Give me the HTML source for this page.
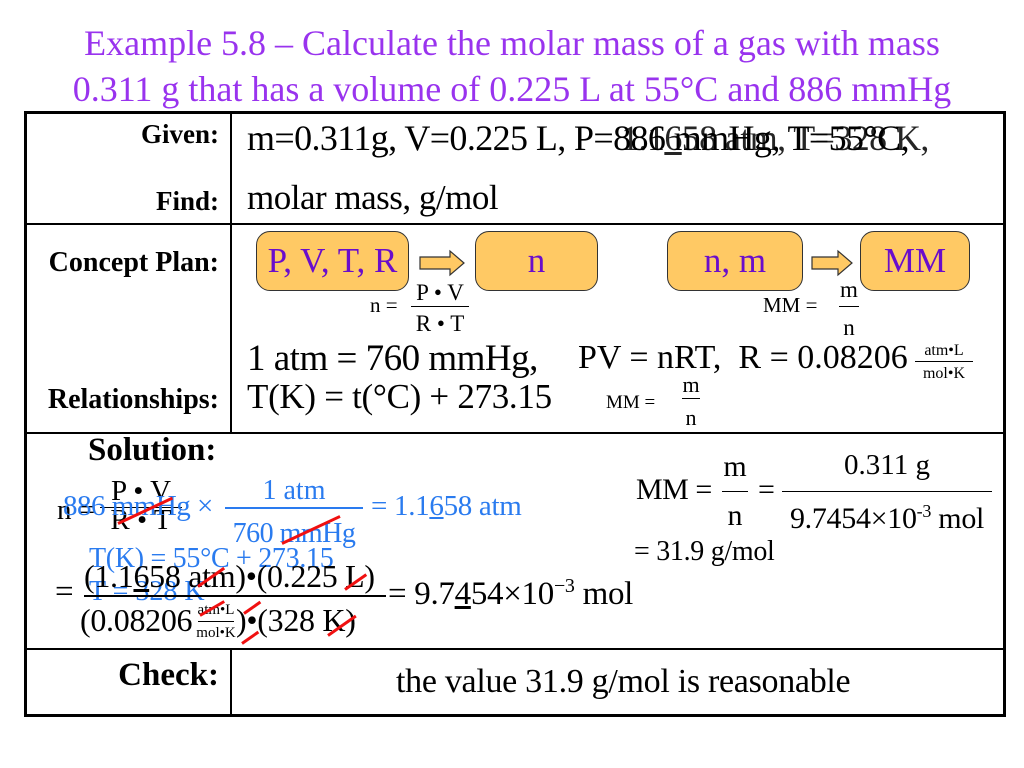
<!DOCTYPE html>
<html><head><meta charset="utf-8"><style>
body{margin:0;width:1024px;height:768px;background:#fff;position:relative;overflow:hidden;font-family:"Liberation Serif",serif;color:#000}
.t{position:absolute;white-space:nowrap;line-height:1}
.b{font-weight:bold}
.l{position:absolute;background:#000}
.blue{color:#2a7bef}
.box{position:absolute;background:#ffc964;border:1.5px solid #333;border-radius:14px;box-sizing:border-box;color:#6a0dcc;font-size:35px;display:flex;align-items:center;justify-content:center}
.fr{position:absolute;text-align:center;line-height:1;white-space:nowrap}
.red{position:absolute;height:3px;background:#f01010;transform-origin:left center}
</style></head><body>
<div class="t" style="left:0;width:1024px;text-align:center;top:25px;font-size:36px;color:#9933ee">Example 5.8 – Calculate the molar mass of a gas with mass</div>
<div class="t" style="left:0;width:1024px;text-align:center;top:71px;font-size:36px;color:#9933ee">0.311 g that has a volume of 0.225 L at 55°C and 886 mmHg</div>

<div class="l" style="left:24px;top:111px;width:982px;height:3px"></div>
<div class="l" style="left:24px;top:111px;width:3px;height:606px"></div>
<div class="l" style="left:1003px;top:111px;width:3px;height:606px"></div>
<div class="l" style="left:24px;top:714px;width:982px;height:3px"></div>
<div class="l" style="left:230px;top:111px;width:1.5px;height:322px"></div>
<div class="l" style="left:230px;top:649px;width:1.5px;height:66px"></div>
<div class="l" style="left:24px;top:223px;width:982px;height:1.5px"></div>
<div class="l" style="left:24px;top:432px;width:982px;height:1.5px"></div>
<div class="l" style="left:24px;top:648px;width:982px;height:1.5px"></div>

<div class="t b" style="right:805px;top:121px;font-size:27px">Given:</div>
<div class="t b" style="right:805px;top:188px;font-size:27px">Find:</div>
<div class="t b" style="right:805px;top:249px;font-size:28px">Concept Plan:</div>
<div class="t b" style="right:805px;top:386px;font-size:28px">Relationships:</div>
<div class="t b" style="left:88px;top:434px;font-size:33px">Solution:</div>
<div class="t b" style="right:805px;top:659px;font-size:33px">Check:</div>

<div class="t" style="left:247px;top:120px;font-size:36px;letter-spacing:-0.6px">m=0.311g, V=0.225 L, P=886 mmHg, T=55°C,</div>
<div class="t" style="left:255px;top:120px;font-size:36px;letter-spacing:-0.6px;opacity:0.85"><span style="visibility:hidden">m=0.311g, V=0.225 L, P=</span>1.1<u>6</u>58 atm, T=328 K,</div>
<div class="t" style="left:247px;top:180px;font-size:35px;letter-spacing:-0.5px">molar mass, g/mol</div>

<div class="box" style="left:256px;top:231px;width:153px;height:60px">P, V, T, R</div>
<div class="box" style="left:475px;top:231px;width:123px;height:60px">n</div>
<div class="box" style="left:667px;top:231px;width:136px;height:60px">n, m</div>
<div class="box" style="left:860px;top:231px;width:110px;height:60px">MM</div>
<svg style="position:absolute;left:0;top:0" width="1024" height="768">
<polygon points="420,257 450,257 450,251 464,263 450,275 450,269 420,269" fill="#ffc964" stroke="#333" stroke-width="1.2"/>
<polygon points="812,257 838,257 838,251 852,263 838,275 838,269 812,269" fill="#ffc964" stroke="#333" stroke-width="1.2"/>
</svg>
<div class="t" style="left:370px;top:295px;font-size:21px">n =</div>
<div class="fr" style="left:409px;top:281px;width:62px;font-size:23px">P • V</div>
<div class="l" style="left:411px;top:306px;width:58px;height:1px"></div>
<div class="fr" style="left:409px;top:312px;width:62px;font-size:23px">R • T</div>
<div class="t" style="left:763px;top:295px;font-size:21px">MM =</div>
<div class="fr" style="left:836px;top:278px;width:26px;font-size:23px">m</div>
<div class="l" style="left:839px;top:306px;width:20px;height:1px"></div>
<div class="fr" style="left:836px;top:316px;width:26px;font-size:23px">n</div>

<div class="t" style="left:247px;top:340px;font-size:37px;letter-spacing:-0.5px">1 atm = 760 mmHg,</div>
<div class="t" style="left:247px;top:379px;font-size:35px;letter-spacing:-0.3px">T(K) = t(°C) + 273.15</div>
<div class="t" style="left:578px;top:341px;font-size:34px">PV = nRT, &nbsp;R = 0.08206</div>
<div class="fr" style="left:914px;top:343px;width:60px;font-size:16px">atm•L</div>
<div class="l" style="left:915px;top:361px;width:58px;height:1px"></div>
<div class="fr" style="left:914px;top:366px;width:60px;font-size:16px">mol•K</div>
<div class="t" style="left:606px;top:393px;font-size:19px">MM =</div>
<div class="fr" style="left:678px;top:374px;width:26px;font-size:22px">m</div>
<div class="l" style="left:682px;top:398px;width:18px;height:1px"></div>
<div class="fr" style="left:678px;top:407px;width:26px;font-size:22px">n</div>

<div class="t" style="left:57px;top:496px;font-size:29px">n =</div>
<div class="fr" style="left:98px;top:477px;width:86px;font-size:29px">P • V</div>
<div class="l" style="left:100px;top:507px;width:82px;height:1px"></div>
<div class="fr" style="left:98px;top:506px;width:86px;font-size:29px">R • T</div>
<div class="t blue" style="left:63px;top:492px;font-size:29px;letter-spacing:-0.5px">886 mmHg ×</div>
<div class="fr blue" style="left:225px;top:477px;width:138px;font-size:28px">1 atm</div>
<div class="l" style="left:225px;top:507px;width:138px;height:1.5px;background:#2a7bef"></div>
<div class="fr blue" style="left:225px;top:520px;width:138px;font-size:28px;letter-spacing:-0.5px">760 mmHg</div>
<div class="t blue" style="left:371px;top:492px;font-size:29px;letter-spacing:-0.3px">= 1.1<u>6</u>58 atm</div>
<div class="t blue" style="left:89px;top:545px;font-size:28px;letter-spacing:-0.3px">T(K) = 55°C + 273.15</div>
<div class="t blue" style="left:89px;top:578px;font-size:28px">T = 328 K</div>
<div class="t" style="left:55px;top:576px;font-size:33px">=</div>
<div class="t" style="left:84px;top:560px;font-size:32px;letter-spacing:-0.3px">(1.1<u>6</u>58 atm)•(0.225 L)</div>
<div class="l" style="left:84px;top:595px;width:302px;height:1.5px"></div>
<div class="t" style="left:80px;top:604px;font-size:32px;letter-spacing:-0.3px">(0.08206</div>
<div class="fr" style="left:196px;top:603px;width:40px;font-size:15px">atm•L</div>
<div class="l" style="left:198px;top:621px;width:36px;height:1px"></div>
<div class="fr" style="left:196px;top:626px;width:40px;font-size:15px">mol•K</div>
<div class="t" style="left:236px;top:604px;font-size:32px;letter-spacing:-0.3px">)•(328 K)</div>
<div class="t" style="left:388px;top:576px;font-size:33px;letter-spacing:-0.3px">= 9.7<u>4</u>54×10<sup style="font-size:20px">−3</sup> mol</div>

<div class="red" style="left:118px;top:522px;width:60px;transform:rotate(-25deg)"></div>
<div class="red" style="left:282px;top:542px;width:64px;transform:rotate(-25deg)"></div>
<div class="red" style="left:198px;top:585px;width:32px;transform:rotate(-35deg)"></div>
<div class="red" style="left:345px;top:588px;width:26px;transform:rotate(-35deg)"></div>
<div class="red" style="left:200px;top:614px;width:28px;transform:rotate(-30deg)"></div>
<div class="red" style="left:328px;top:634px;width:34px;transform:rotate(-35deg)"></div>
<div class="red" style="left:244px;top:612px;width:20px;transform:rotate(-35deg)"></div>
<div class="red" style="left:242px;top:642px;width:20px;transform:rotate(-35deg)"></div>

<div class="t" style="left:636px;top:475px;font-size:30px;letter-spacing:-0.5px">MM =</div>
<div class="fr" style="left:718px;top:452px;width:34px;font-size:30px">m</div>
<div class="l" style="left:722px;top:491px;width:26px;height:1px"></div>
<div class="fr" style="left:718px;top:501px;width:34px;font-size:30px">n</div>
<div class="t" style="left:758px;top:475px;font-size:30px">=</div>
<div class="fr" style="left:782px;top:451px;width:210px;font-size:29px">0.311 g</div>
<div class="l" style="left:782px;top:491px;width:210px;height:1px"></div>
<div class="fr" style="left:782px;top:502px;width:210px;font-size:30px;letter-spacing:-0.3px">9.7454×10<sup style="font-size:18px">-3</sup> mol</div>
<div class="t" style="left:634px;top:538px;font-size:28px;letter-spacing:-0.3px">= 31.9 g/mol</div>

<div class="t" style="left:396px;top:665px;font-size:34px;letter-spacing:-0.3px">the value 31.9 g/mol is reasonable</div>
</body></html>
